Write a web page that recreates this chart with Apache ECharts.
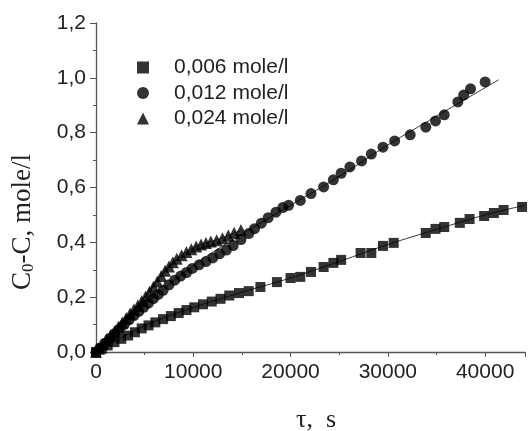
<!DOCTYPE html>
<html>
<head>
<meta charset="utf-8">
<script src="https://cdn.jsdelivr.net/npm/echarts@6/dist/echarts.min.js"></script>
<style>
  html, body { margin: 0; padding: 0; background: #fff; }
  #chart { width: 528px; height: 431px; }
</style>
</head>
<body>
<div id="chart"></div>
<script>
// measured points, tau (s) vs C0-C (mole/l)
const conc006 = [
  [0,0],[600,0.012],[1200,0.024],[1900,0.036],[2600,0.048],[3300,0.06],[4000,0.072],[4700,0.086],
  [5400,0.097],[6100,0.108],[6900,0.12],[7700,0.131],[8500,0.142],[9300,0.153],[10100,0.163],
  [11000,0.174],[11900,0.184],[12800,0.194],[13700,0.206],[14700,0.215],[15700,0.222],[16900,0.237],
  [18600,0.255],[20000,0.27],[21000,0.274],[22100,0.292],[23400,0.31],[24400,0.325],[25200,0.336],
  [27200,0.361],[28300,0.361],[29500,0.387],[30600,0.398],[33900,0.434],[34900,0.449],[35800,0.456],
  [37400,0.471],[38400,0.485],[39900,0.496],[40900,0.507],[41900,0.518],[43800,0.529]
]
const conc012 = [
  [0,0],[400,0.015],[900,0.032],[1400,0.05],[1900,0.067],[2400,0.083],[2900,0.1],[3400,0.117],
  [3900,0.133],[4400,0.148],[4900,0.163],[5400,0.178],[5900,0.195],[6400,0.21],[6900,0.225],
  [7500,0.245],[8100,0.262],[8700,0.277],[9300,0.29],[9900,0.305],[10600,0.318],[11300,0.33],
  [12000,0.343],[12700,0.358],[13400,0.372],[14100,0.388],[14900,0.41],[15700,0.432],[16300,0.45],
  [17000,0.47],[17700,0.49],[18500,0.51],[19200,0.527],[19800,0.535],[21000,0.553],[22100,0.578],
  [23400,0.602],[24400,0.628],[25200,0.652],[26100,0.675],[27300,0.697],[28300,0.722],[29500,0.747],
  [30700,0.77],[32300,0.792],[33900,0.82],[34900,0.843],[35800,0.865],[37200,0.912],[37800,0.937],
  [38500,0.96],[40000,0.985]
]
const conc024 = [
  [0,0],[300,0.012],[700,0.028],[1100,0.045],[1500,0.06],[1900,0.076],[2300,0.092],[2700,0.108],
  [3100,0.124],[3500,0.14],[3900,0.155],[4300,0.17],[4700,0.186],[5100,0.202],[5500,0.22],
  [5900,0.238],[6300,0.257],[6700,0.277],[7100,0.296],[7500,0.312],[7900,0.327],[8300,0.34],
  [8800,0.353],[9300,0.365],[9800,0.375],[10300,0.385],[10800,0.392],[11300,0.398],[11800,0.403],
  [12400,0.408],[13000,0.415],[13600,0.425],[14200,0.435],[14900,0.445]
]

// fitted curves
const fit006 = [[0,0],[5000,0.095],[10000,0.162],[15000,0.218],[20000,0.27],[25000,0.33],[30000,0.392],[35000,0.447],[40000,0.5],[44100,0.535]]
const fit012 = [[0,0],[5000,0.17],[10000,0.315],[15000,0.43],[20000,0.535],[25000,0.64],[30000,0.755],[35000,0.86],[41400,0.993]]
const fit024 = [[0,0],[2500,0.1],[5000,0.2],[7500,0.31],[10000,0.38],[12500,0.41],[15000,0.445]]

const seriesNames = ['0,006 mole/l', '0,012 mole/l', '0,024 mole/l']

const chart = echarts.init(document.getElementById('chart'))

const fitLine = (data) => ({
  type: 'line',
  data: data,
  smooth: 0.4,
  showSymbol: false,
  silent: true,
  lineStyle: { color: '#3a3a3a', width: 1 },
  z: 1
})

const dots = (name, data, symbol, size) => ({
  name: name,
  type: 'scatter',
  data: data,
  symbol: symbol,
  symbolSize: size,
  itemStyle: { color: '#000' },
  z: 3
})

const option = {
  backgroundColor: '#fff',
  animation: false,
  grid: { left: 96, top: 23, right: 0, bottom: 79 },
  legend: {
    orient: 'vertical',
    left: 137,
    top: 55,
    padding: 0,
    itemWidth: 12,
    itemHeight: 12,
    itemGap: 0.5,
    data: [
      { name: seriesNames[0], icon: 'rect' },
      { name: seriesNames[1], icon: 'circle' },
      { name: seriesNames[2], icon: 'triangle' }
    ],
    textStyle: { fontFamily: 'Liberation Sans', fontSize: 21, lineHeight: 25, color: '#222', padding: [0, 0, 0, 20] }
  },
  graphic: [
    {
      type: 'text',
      x: 23,
      y: 222,
      rotation: Math.PI / 2,
      style: {
        text: '{a|C}{s|0}{a|-C, mole/l}',
        align: 'center',
        verticalAlign: 'middle',
        rich: {
          a: { fontFamily: 'Liberation Serif', fontSize: 27, fill: '#222', lineHeight: 30 },
          s: { fontFamily: 'Liberation Serif', fontSize: 17, fill: '#222', lineHeight: 30, padding: [12, 0, 0, 0] }
        }
      }
    },
    {
      type: 'text',
      x: 316,
      y: 420,
      style: {
        text: 'τ,  s',
        align: 'center',
        verticalAlign: 'middle',
        fontFamily: 'Liberation Serif',
        fontSize: 26,
        fill: '#222'
      }
    }
  ],
  xAxis: {
    type: 'value',
    min: 0,
    max: 44100,
    interval: 10000,
    axisLine: { lineStyle: { color: '#555', width: 1.3 } },
    axisTick: { inside: false, length: 5, lineStyle: { color: '#555' } },
    minorTick: { show: true, splitNumber: 2, length: 3, lineStyle: { color: '#555' } },
    splitLine: { show: false },
    axisLabel: {
      margin: 10,
      fontFamily: 'Liberation Sans',
      fontSize: 21,
      color: '#222',
      formatter: (v) => (v % 10000 === 0 ? String(v) : '')
    }
  },
  yAxis: {
    type: 'value',
    min: 0,
    max: 1.2,
    interval: 0.2,
    axisLine: { show: true, lineStyle: { color: '#555', width: 1.3 } },
    axisTick: { show: true, inside: false, length: 6, lineStyle: { color: '#555' } },
    minorTick: { show: true, splitNumber: 2, length: 3, lineStyle: { color: '#555' } },
    splitLine: { show: false },
    axisLabel: {
      margin: 10,
      fontFamily: 'Liberation Sans',
      fontSize: 21,
      color: '#222',
      formatter: (v) => v.toFixed(1).replace('.', ',')
    }
  },
  series: [
    fitLine(fit006),
    fitLine(fit012),
    fitLine(fit024),
    dots(seriesNames[0], conc006, 'rect', 10),
    dots(seriesNames[1], conc012, 'circle', 11),
    dots(seriesNames[2], conc024, 'triangle', 12)
  ]
}

chart.setOption(option)
</script>
</body>
</html>
